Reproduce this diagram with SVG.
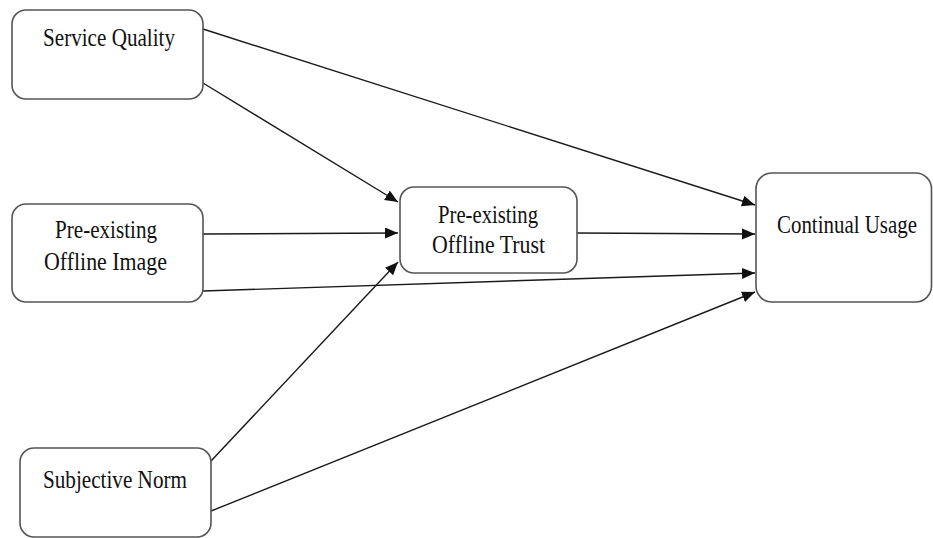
<svg xmlns="http://www.w3.org/2000/svg" width="933" height="538" viewBox="0 0 933 538">
<style>
.box{fill:#fff;stroke:#555;stroke-width:1.6}
.lbl{font-family:"Liberation Serif","Times New Roman",serif;font-size:25px;fill:#111;text-anchor:middle}
.edge{stroke:#1a1a1a;stroke-width:1.4;fill:none;marker-end:url(#ah)}
</style>
<defs>
<marker id="ah" markerUnits="userSpaceOnUse" markerWidth="14" markerHeight="12" refX="13" refY="5.5" orient="auto">
<path d="M0,0 L13,5.5 L0,11 Z" fill="#111"/>
</marker>
</defs>
<rect width="933" height="538" fill="#fff"/>
<g id="connectors">
<line class="edge" x1="203" y1="29" x2="755" y2="205"/>
<line class="edge" x1="203" y1="83" x2="398" y2="202"/>
<line class="edge" x1="203" y1="234" x2="398" y2="233"/>
<line class="edge" x1="577" y1="233" x2="755" y2="234"/>
<line class="edge" x1="203" y1="291" x2="755" y2="273"/>
<line class="edge" x1="211" y1="461" x2="398" y2="262"/>
<line class="edge" x1="211" y1="511" x2="755" y2="292"/>
</g>
<g id="service-quality">
<rect class="box" x="12" y="10" width="191" height="89" rx="14"/>
<text class="lbl" x="109" y="46" textLength="132" lengthAdjust="spacingAndGlyphs">Service Quality</text>
</g>
<g id="offline-image">
<rect class="box" x="12" y="204" width="191" height="98" rx="14"/>
<text class="lbl" x="106" y="238" textLength="102" lengthAdjust="spacingAndGlyphs">Pre-existing</text>
<text class="lbl" x="105.5" y="270" textLength="123" lengthAdjust="spacingAndGlyphs">Offline Image</text>
</g>
<g id="offline-trust">
<rect class="box" x="400" y="187" width="177" height="86" rx="14"/>
<text class="lbl" x="488" y="223" textLength="100" lengthAdjust="spacingAndGlyphs">Pre-existing</text>
<text class="lbl" x="488.5" y="253" textLength="113" lengthAdjust="spacingAndGlyphs">Offline Trust</text>
</g>
<g id="continual-usage">
<rect class="box" x="756" y="173" width="175.5" height="129" rx="16"/>
<text class="lbl" x="847" y="233" textLength="140" lengthAdjust="spacingAndGlyphs">Continual Usage</text>
</g>
<g id="subjective-norm">
<rect class="box" x="20" y="448" width="191" height="89" rx="14"/>
<text class="lbl" x="115" y="488" textLength="144" lengthAdjust="spacingAndGlyphs">Subjective Norm</text>
</g>
</svg>
